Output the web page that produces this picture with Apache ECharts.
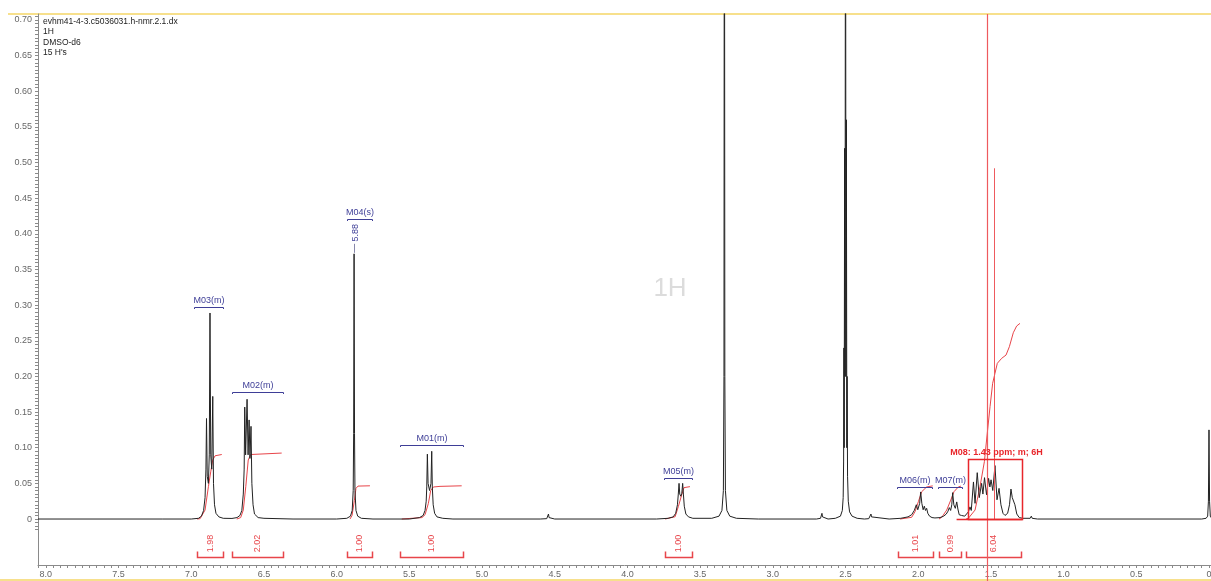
<!DOCTYPE html>
<html>
<head>
<meta charset="utf-8">
<title>evhm41-4-3 1H NMR</title>
<script src="https://cdn.jsdelivr.net/npm/echarts@6/dist/echarts.min.js"></script>
<style>
  html, body { margin: 0; padding: 0; background: #fff; }
  #chart { width: 1211px; height: 581px; }
</style>
</head>
<body>
<div id="chart"></div>
<script>
// ---- header text ----
const headerLines = ['evhm41-4-3.c5036031.h-nmr.2.1.dx', '1H', 'DMSO-d6', "15 H's"];

// ---- axis tick labels ----
const xTickLabels = [0, 0.5, 1.0, 1.5, 2.0, 2.5, 3.0, 3.5, 4.0, 4.5, 5.0, 5.5, 6.0, 6.5, 7.0, 7.5, 8.0];
const yTickLabels = [0, 0.05, 0.10, 0.15, 0.20, 0.25, 0.30, 0.35, 0.40, 0.45, 0.50, 0.55, 0.60, 0.65, 0.70];

// ---- 1H spectrum: [ppm, intensity] ----
const spectrum = [
  [8.054, 0], [7.20, 0], [7.00, 0],
  // M03
  [6.95, 0.001], [6.93, 0.004], [6.915, 0.012], [6.905, 0.03], [6.899, 0.07], [6.895, 0.141], [6.890, 0.06],
  [6.882, 0.05], [6.876, 0.09], [6.871, 0.289], [6.866, 0.09], [6.859, 0.07], [6.852, 0.172], [6.847, 0.05],
  [6.84, 0.02], [6.83, 0.008], [6.81, 0.003], [6.78, 0.001],
  // M02
  [6.72, 0.0008], [6.685, 0.002], [6.665, 0.005], [6.652, 0.012], [6.642, 0.035], [6.636, 0.07], [6.632, 0.157],
  [6.626, 0.09], [6.616, 0.168], [6.609, 0.09], [6.602, 0.139], [6.596, 0.085], [6.589, 0.130], [6.583, 0.05],
  [6.575, 0.02], [6.565, 0.007], [6.54, 0.002], [6.50, 0.001], [6.30, 0],
  // M04
  [6.00, 0], [5.93, 0.001], [5.905, 0.004], [5.893, 0.012], [5.886, 0.04], [5.883, 0.12], [5.880, 0.372],
  [5.877, 0.12], [5.874, 0.04], [5.867, 0.012], [5.855, 0.004], [5.83, 0.001], [5.75, 0],
  // M01
  [5.50, 0], [5.43, 0.002], [5.405, 0.005], [5.392, 0.012], [5.384, 0.025], [5.380, 0.045], [5.376, 0.091],
  [5.371, 0.05], [5.361, 0.04], [5.351, 0.05], [5.346, 0.095], [5.342, 0.045], [5.336, 0.02], [5.326, 0.008],
  [5.31, 0.003], [5.27, 0.001], [5.20, 0],
  [4.60, 0], [4.555, 0.0005], [4.547, 0.002], [4.543, 0.007], [4.539, 0.002], [4.53, 0.0005], [4.50, 0],
  // M05
  [3.80, 0], [3.72, 0.001], [3.685, 0.003], [3.668, 0.008], [3.656, 0.02], [3.650, 0.035], [3.645, 0.050],
  [3.640, 0.035], [3.633, 0.032], [3.626, 0.036], [3.620, 0.050], [3.615, 0.035], [3.609, 0.018], [3.598, 0.007],
  [3.58, 0.003], [3.55, 0.001],
  // water
  [3.42, 0.001], [3.37, 0.004], [3.35, 0.012], [3.340, 0.04], [3.336, 0.2], [3.333, 1.2], [3.330, 0.2],
  [3.326, 0.04], [3.316, 0.012], [3.296, 0.004], [3.25, 0.001], [3.10, 0],
  [2.70, 0], [2.672, 0.001], [2.666, 0.003], [2.662, 0.008], [2.658, 0.003], [2.652, 0.001], [2.62, 0],
  // DMSO-d5
  [2.57, 0.001], [2.535, 0.004], [2.522, 0.012], [2.516, 0.03], [2.513, 0.08], [2.511, 0.24], [2.509, 0.1],
  [2.506, 0.52], [2.503, 0.2], [2.500, 1.2], [2.497, 0.2], [2.494, 0.56], [2.491, 0.1], [2.489, 0.2],
  [2.486, 0.06], [2.481, 0.025], [2.472, 0.01], [2.455, 0.004], [2.42, 0.001], [2.37, 0],
  [2.34, 0.0005], [2.329, 0.003], [2.325, 0.007], [2.321, 0.003], [2.31, 0.0005], [2.20, 0],
  // M06
  [2.12, 0.001], [2.07, 0.003], [2.045, 0.006], [2.027, 0.012], [2.013, 0.020], [2.003, 0.013], [1.990, 0.022],
  [1.983, 0.038], [1.975, 0.022], [1.966, 0.013], [1.958, 0.018], [1.950, 0.012], [1.942, 0.015], [1.934, 0.008],
  [1.922, 0.004], [1.905, 0.002], [1.885, 0.0015],
  // M07
  [1.85, 0.002], [1.825, 0.004], [1.807, 0.007], [1.795, 0.011], [1.786, 0.016], [1.777, 0.012], [1.769, 0.02],
  [1.763, 0.037], [1.755, 0.02], [1.745, 0.015], [1.735, 0.024], [1.727, 0.014], [1.718, 0.006], [1.710, 0.004],
  [1.702, 0.005], [1.692, 0.003], [1.68, 0.004],
  // M08
  [1.668, 0.006], [1.655, 0.01], [1.644, 0.017], [1.635, 0.012], [1.620, 0.052], [1.609, 0.022], [1.594, 0.065],
  [1.580, 0.03], [1.564, 0.050], [1.555, 0.035], [1.544, 0.058], [1.530, 0.034], [1.516, 0.057], [1.507, 0.045],
  [1.499, 0.055], [1.487, 0.04], [1.472, 0.075], [1.458, 0.027], [1.444, 0.043], [1.431, 0.02], [1.417, 0.008],
  [1.403, 0.005], [1.385, 0.008], [1.372, 0.02], [1.362, 0.042], [1.353, 0.03], [1.345, 0.03], [1.335, 0.02],
  [1.322, 0.007], [1.305, 0.002], [1.28, 0.001],
  [1.230, 0.001], [1.222, 0.004], [1.216, 0.001], [1.18, 0], [0.05, 0],
  // TMS
  [0.02, 0.001], [0.009, 0.004], [0.004, 0.025], [0.0, 0.125], [-0.004, 0.025], [-0.009, 0.004], [-0.0138, 0.002]
];

// ---- integral curves: [ppm, running integral] ----
const integralM03 = [[6.960, 0], [6.939, 0.0005], [6.905, 0.0126], [6.882, 0.0453], [6.866, 0.0662], [6.852, 0.0828], [6.836, 0.0887], [6.790, 0.0905]];
const integralM02 = [[6.687, 0], [6.660, 0.002], [6.642, 0.0126], [6.625, 0.0453], [6.608, 0.0828], [6.591, 0.0905], [6.378, 0.0925]];
const integralM04 = [[5.908, 0], [5.894, 0.005], [5.878, 0.026], [5.867, 0.043], [5.853, 0.0462], [5.771, 0.0466]];
const integralM01 = [[5.552, 0], [5.413, 0.002], [5.392, 0.006], [5.369, 0.022], [5.353, 0.040], [5.335, 0.0449], [5.289, 0.0458], [5.140, 0.0466]];
const integralM05 = [[3.741, 0], [3.672, 0.0032], [3.650, 0.0173], [3.627, 0.0337], [3.611, 0.0440], [3.570, 0.0454]];
const integralM06 = [[2.125, 0], [2.045, 0.0024], [2.022, 0.0102], [1.999, 0.0243], [1.976, 0.0383], [1.942, 0.0450], [1.900, 0.0465]];
const integralM07 = [[1.857, 0], [1.838, 0.0024], [1.804, 0.0126], [1.776, 0.0266], [1.754, 0.0383], [1.724, 0.0450], [1.706, 0.0462]];
const integralM08 = [[1.671, 0], [1.655, 0.001], [1.609, 0.0126], [1.575, 0.0453], [1.545, 0.0804], [1.525, 0.1203], [1.506, 0.1576],
  [1.488, 0.1904], [1.472, 0.2044], [1.456, 0.2184], [1.426, 0.2254], [1.396, 0.2300], [1.373, 0.2417], [1.346, 0.2613], [1.323, 0.2707], [1.300, 0.2744]];
const integralCurves = [integralM03, integralM02, integralM04, integralM01, integralM05, integralM06, integralM07, integralM08];

// ---- integral regions and values ----
const integralRanges = [[6.960, 6.781], [6.719, 6.369], [5.928, 5.757], [5.564, 5.131], [3.741, 3.556], [2.139, 1.898], [1.857, 1.706], [1.671, 1.293]];
const integralValues = [1.98, 2.02, 1.00, 1.00, 1.00, 1.01, 0.99, 6.04];

// ---- multiplet annotations ----
const multipletNames = ['M03(m)', 'M02(m)', 'M04(s)', 'M01(m)', 'M05(m)', 'M06(m)', 'M07(m)'];
const multipletRanges = [[6.981, 6.781], [6.719, 6.369], [5.928, 5.757], [5.564, 5.131], [3.748, 3.556], [2.146, 1.905], [1.864, 1.699]];
const multipletLevels = [0.297, 0.178, 0.421, 0.104, 0.0575, 0.045, 0.045];

// ---- peak pick ----
const peakShifts = [5.88];
const peakHeights = [0.372];

// ---- selected multiplet M08 ----
const m08Range = [1.660, 1.285];
const m08BoxTop = 0.0837;
const m08BaseFrom = 1.736;
const m08Text = 'M08: 1.43 ppm; m; 6H';
const cursorPpm = [1.527];
const markerLine = [[1.477, 0.492]];

const BLUE = '#3e3e97';
const RED = '#e8262b';
const INT_RED = '#e8454a';
const FONT = '"Liberation Sans", Arial, sans-serif';

const xTicks = [];
for (let i = 0; i <= 161; i++) xTicks.push(+(i * 0.05).toFixed(2));
const yTicks = [];
for (let i = -3; i <= 141; i++) yTicks.push(+(i * 0.005).toFixed(3));

const chart = echarts.init(document.getElementById('chart'), null, { renderer: 'canvas' });

const integralSeries = integralCurves.map(curve => ({
  type: 'line', data: curve, showSymbol: false, silent: true, z: 3,
  lineStyle: { color: INT_RED, width: 1 }, animation: false
}));

const option = {
  animation: false,
  backgroundColor: '#ffffff',
  grid: { left: 38, right: 0, top: 14, bottom: 16, containLabel: false, outerBoundsMode: 'none' },
  xAxis: {
    type: 'value', inverse: true, min: -0.0138, max: 8.054,
    axisLine: { show: true, onZero: false, lineStyle: { color: '#8a8a8a', width: 1 } },
    axisTick: { show: true, length: 3, customValues: xTicks, lineStyle: { color: '#8a8a8a' } },
    axisLabel: {
      customValues: xTickLabels, margin: 5, fontSize: 9, fontFamily: FONT, color: '#666',
      formatter: v => (v === 0 ? '0' : v.toFixed(1))
    },
    splitLine: { show: false }
  },
  yAxis: {
    type: 'value', min: -0.0645, max: 0.7084,
    axisLine: { show: true, onZero: false, lineStyle: { color: '#8a8a8a', width: 1 } },
    axisTick: { show: true, length: 3, customValues: yTicks, lineStyle: { color: '#8a8a8a' } },
    axisLabel: {
      customValues: yTickLabels, margin: 6, fontSize: 9, fontFamily: FONT, color: '#666',
      formatter: v => (v === 0 ? '0' : v.toFixed(2))
    },
    splitLine: { show: false }
  },
  graphic: [
    { type: 'line', shape: { x1: 8, y1: 14, x2: 1211, y2: 14 }, style: { stroke: '#f7e08c', lineWidth: 2 }, z: 0 },
    { type: 'line', shape: { x1: 0, y1: 580, x2: 1211, y2: 580 }, style: { stroke: '#f7e08c', lineWidth: 2 }, z: 0 },
    { type: 'text', x: 43, y: 16, style: { text: headerLines.join('\n'), font: '8.5px ' + FONT, fill: '#222', lineHeight: 10.5 }, z: 10 },
    { type: 'text', x: 670, y: 289, style: { text: '1H', font: '26px ' + FONT, fill: '#dcdcdc', align: 'center', verticalAlign: 'middle' }, z: 0 }
  ],
  series: [
    ...integralSeries,
    {
      type: 'line', data: spectrum, showSymbol: false, silent: true, z: 5, sampling: null,
      lineStyle: { color: '#222222', width: 1 }
    },
    // integral brackets under the baseline
    {
      type: 'custom', silent: true, z: 6, clip: false,
      data: integralRanges.map(r => [r[0], r[1], 0]),
      encode: { x: [0, 1], y: 2 },
      renderItem: (params, api) => {
        const a = api.coord([api.value(0), 0]);
        const b = api.coord([api.value(1), 0]);
        const x0 = Math.round(Math.min(a[0], b[0])) + 0.5, x1 = Math.round(Math.max(a[0], b[0])) + 0.5;
        const yb = Math.round(a[1]) + 38.5;
        return {
          type: 'group', children: [
            { type: 'polyline', shape: { points: [[x0, yb - 6], [x0, yb], [x1, yb], [x1, yb - 6]] },
              style: { stroke: INT_RED, lineWidth: 1.5, fill: null } },
            { type: 'text', x: (x0 + x1) / 2, y: yb - 14, rotation: Math.PI / 2,
              style: { text: integralValues[params.dataIndex].toFixed(2), font: '9px ' + FONT, fill: INT_RED, align: 'center', verticalAlign: 'middle' } }
          ]
        };
      }
    },
    // multiplet labels
    {
      type: 'custom', silent: true, z: 6, clip: false,
      data: multipletRanges.map((r, i) => [r[0], r[1], multipletLevels[i]]),
      encode: { x: [0, 1], y: 2 },
      renderItem: (params, api) => {
        const a = api.coord([api.value(0), api.value(2)]);
        const b = api.coord([api.value(1), api.value(2)]);
        const x0 = Math.round(Math.min(a[0], b[0])) + 0.5, x1 = Math.round(Math.max(a[0], b[0])) + 0.5;
        const y = Math.round(a[1]) + 0.5;
        return {
          type: 'group', children: [
            { type: 'polyline', shape: { points: [[x0, y + 1.5], [x0, y], [x1, y], [x1, y + 1.5]] },
              style: { stroke: BLUE, lineWidth: 1, fill: null } },
            { type: 'text', x: (x0 + x1) / 2, y: y - 2,
              style: { text: multipletNames[params.dataIndex], font: '9px ' + FONT, fill: BLUE, align: 'center', verticalAlign: 'bottom' } }
          ]
        };
      }
    },
    // peak shift label
    {
      type: 'custom', silent: true, z: 6, clip: false,
      data: peakShifts.map((p, i) => [p, peakHeights[i]]),
      encode: { x: 0, y: 1 },
      renderItem: (params, api) => {
        const p = api.coord([api.value(0), api.value(1)]);
        const x = Math.round(p[0]) + 0.5;
        return {
          type: 'group', children: [
            { type: 'line', shape: { x1: x, y1: p[1] - 1, x2: x, y2: p[1] - 10 }, style: { stroke: '#8888aa', lineWidth: 1 } },
            { type: 'text', x: x + 1, y: p[1] - 21, rotation: Math.PI / 2,
              style: { text: api.value(0).toFixed(2), font: '9px ' + FONT, fill: BLUE, align: 'center', verticalAlign: 'middle' } }
          ]
        };
      }
    },
    // cursor line
    {
      type: 'custom', silent: true, z: 7, clip: false,
      data: cursorPpm.map(p => [p, 0]),
      encode: { x: 0, y: 1 },
      renderItem: (params, api) => {
        const x = Math.round(api.coord([api.value(0), 0])[0]) + 0.5;
        return { type: 'line', shape: { x1: x, y1: params.coordSys.y, x2: x, y2: api.getHeight() },
          style: { stroke: '#ee5a5e', lineWidth: 1.2 } };
      }
    },
    // marker line
    {
      type: 'custom', silent: true, z: 7, clip: false,
      data: markerLine,
      encode: { x: 0, y: 1 },
      renderItem: (params, api) => {
        const top = api.coord([api.value(0), api.value(1)]);
        const bot = api.coord([api.value(0), 0]);
        const x = Math.round(top[0]) + 0.5;
        return { type: 'line', shape: { x1: x, y1: top[1], x2: x, y2: bot[1] },
          style: { stroke: '#ee5a5e', lineWidth: 1 } };
      }
    },
    // M08 box with label
    {
      type: 'custom', silent: true, z: 8, clip: false,
      data: [[m08Range[0], m08Range[1], m08BoxTop]],
      encode: { x: [0, 1], y: 2 },
      renderItem: (params, api) => {
        const a = api.coord([api.value(0), api.value(2)]);
        const b = api.coord([api.value(1), 0]);
        const c = api.coord([m08BaseFrom, 0]);
        const x0 = Math.round(a[0]) + 0.5, x1 = Math.round(b[0]) + 0.5;
        const y0 = Math.round(a[1]) + 0.5, y1 = Math.round(b[1]) + 0.5;
        return {
          type: 'group', children: [
            { type: 'rect', shape: { x: x0, y: y0, width: x1 - x0, height: y1 - y0 },
              style: { stroke: RED, lineWidth: 1.5, fill: null } },
            { type: 'line', shape: { x1: c[0], y1: y1, x2: x1, y2: y1 }, style: { stroke: RED, lineWidth: 1.5 } },
            { type: 'text', x: (x0 + x1) / 2 + 1, y: y0 - 2,
              style: { text: m08Text, font: 'bold 9px ' + FONT, fill: RED, align: 'center', verticalAlign: 'bottom' } }
          ]
        };
      }
    }
  ]
};

chart.setOption(option);
</script>
</body>
</html>
